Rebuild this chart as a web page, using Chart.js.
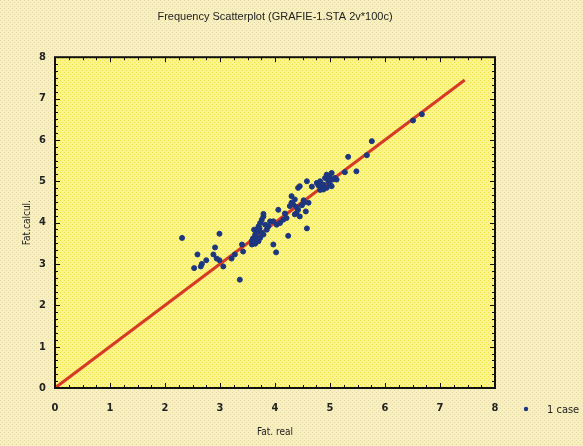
<!DOCTYPE html>
<html>
<head>
<meta charset="utf-8">
<script src="https://cdn.jsdelivr.net/npm/chart.js@4/dist/chart.umd.min.js"></script>
<style>
  html, body { margin: 0; padding: 0; background: #f6eebd; }
  #wrap { width: 583px; height: 446px; }
</style>
</head>
<body>
<div id="wrap"><canvas id="myChart"></canvas></div>
<script>
// measured cases: Fat, real (x) vs Fat.calcul. (y)
const fatReal = [
  2.31, 2.99, 2.91, 2.59, 2.88, 2.75, 2.67, 2.65, 2.53, 2.94, 2.99, 3.06, 3.21, 3.27, 3.36, 3.42, 3.40,
  3.58, 3.61, 3.64, 3.67, 3.70, 3.73, 3.76, 3.79, 3.79, 3.76, 3.73, 3.70, 3.64, 3.79, 3.85, 3.88, 3.62, 3.66, 3.60, 3.68, 3.72, 3.82, 3.58,
  3.97, 4.02, 3.91, 3.97, 4.03, 4.09, 4.06, 4.15, 4.21, 4.18, 4.24, 4.30, 4.36, 4.33, 4.30, 4.27, 4.39, 4.42, 4.45, 4.39, 4.36,
  4.42, 4.49, 4.52, 4.52, 4.61, 4.56, 4.58, 4.58, 4.45, 4.67,
  4.76, 4.82, 4.85, 4.88, 4.91, 4.94, 4.97, 5.00, 5.03, 5.05, 5.09, 5.12, 4.88, 4.82, 4.94, 5.03, 4.79, 4.99,
  5.27, 5.33, 5.48, 5.67, 5.76, 6.51, 6.67
];
const fatCalc = [
  3.63, 3.73, 3.40, 3.23, 3.23, 3.09, 3.00, 2.94, 2.90, 3.13, 3.09, 2.94, 3.13, 3.23, 2.62, 3.30, 3.47,
  3.47, 3.59, 3.71, 3.83, 3.91, 3.99, 4.07, 4.15, 4.21, 3.75, 3.63, 3.55, 3.49, 3.71, 3.83, 3.91, 3.83, 3.65, 3.62, 3.78, 3.86, 3.95, 3.56,
  3.47, 3.28, 4.03, 4.03, 3.95, 3.99, 4.31, 4.07, 4.11, 4.22, 3.68, 4.64, 4.56, 4.44, 4.48, 4.40, 4.38, 4.31, 4.15, 4.23, 4.20,
  4.84, 4.42, 4.54, 4.48, 4.48, 4.27, 3.86, 5.00, 4.88, 4.87,
  4.96, 5.00, 4.88, 4.92, 5.08, 5.16, 5.00, 4.92, 5.20, 5.04, 5.08, 5.04, 4.80, 4.79, 4.84, 4.88, 4.90, 5.10,
  5.22, 5.59, 5.24, 5.63, 5.97, 6.47, 6.62
];
// fitted line ends
const fitX = [0, 7.45];
const fitY = [0, 7.45];
const axisTicks = [0, 1, 2, 3, 4, 5, 6, 7, 8];

const fontFam = "'Liberation Sans Narrow', 'DejaVu Sans Condensed', sans-serif";

function makePattern(base, dot, size) {
  const c = document.createElement('canvas');
  c.width = 4; c.height = 4;
  const g = c.getContext('2d');
  g.fillStyle = base;
  g.fillRect(0, 0, 4, 4);
  g.fillStyle = dot;
  g.fillRect(0, 0, size, size);
  g.fillRect(2, 2, size, size);
  return c;
}

const bgPlugin = {
  id: 'bgPlugin',
  beforeDraw(chart) {
    const ctx = chart.ctx;
    const a = chart.chartArea;
    ctx.save();
    ctx.fillStyle = ctx.createPattern(makePattern('#f7efc0', '#e6dba6', 1), 'repeat');
    ctx.fillRect(0, 0, chart.width, chart.height);
    ctx.fillStyle = ctx.createPattern(makePattern('#f9f48e', '#eee243', 1), 'repeat');
    ctx.fillRect(a.left, a.top, a.right - a.left, a.bottom - a.top);
    ctx.restore();
  },
  afterDraw(chart) {
    const ctx = chart.ctx;
    const a = chart.chartArea;
    const xs = chart.scales.x, ys = chart.scales.y;
    ctx.save();
    ctx.strokeStyle = '#111';
    ctx.lineWidth = 1;
    // inward ticks
    for (let v = 0; v <= 8.001; v += 0.25) {
      const px = Math.round(xs.getPixelForValue(v)) + 0.5;
      const len = Math.abs(v - Math.round(v)) < 0.01 ? 5 : 3;
      ctx.beginPath();
      ctx.moveTo(px, a.bottom); ctx.lineTo(px, a.bottom - len);
      ctx.moveTo(px, a.top); ctx.lineTo(px, a.top + len);
      ctx.stroke();
    }
    for (let i = 0; i <= 48; i++) {
      const v = i / 6;
      const py = Math.round(ys.getPixelForValue(v)) + 0.5;
      const len = i % 6 === 0 ? 5 : 3;
      ctx.beginPath();
      ctx.moveTo(a.left, py); ctx.lineTo(a.left + len, py);
      ctx.moveTo(a.right, py); ctx.lineTo(a.right - len, py);
      ctx.stroke();
    }
    // frame
    ctx.lineWidth = 2;
    ctx.strokeRect(a.left, a.top, a.right - a.left, a.bottom - a.top);
    // legend
    const ds = chart.data.datasets[1];
    ctx.fillStyle = ds.backgroundColor;
    ctx.beginPath();
    ctx.arc(526, 409, 2.2, 0, Math.PI * 2);
    ctx.fill();
    ctx.fillStyle = '#222';
    ctx.font = '11px ' + fontFam;
    ctx.textBaseline = 'middle';
    ctx.fillText(ds.label, 547, 410);
    ctx.restore();
  }
};

const chart = new Chart(document.getElementById('myChart').getContext('2d'), {
  data: {
    datasets: [{
      type: 'line',
      label: 'fit',
      data: fitX.map((x, i) => ({ x: x, y: fitY[i] })),
      borderColor: '#d63a26',
      borderWidth: 3,
      pointRadius: 0,
      fill: false,
      order: 2
    }, {
      type: 'scatter',
      label: '1 case',
      data: fatReal.map((x, i) => ({ x: x, y: fatCalc[i] })),
      backgroundColor: '#1c3680',
      borderColor: '#1c3680',
      pointRadius: 2.5,
      pointHoverRadius: 2.5,
      order: 1
    }]
  },
  options: {
    responsive: true,
    maintainAspectRatio: false,
    animation: false,
    layout: { padding: { left: 0, right: 88, top: 0, bottom: 0 } },
    plugins: {
      legend: { display: false },
      tooltip: { enabled: false },
      title: {
        display: true,
        fullSize: false,
        text: 'Frequency Scatterplot (GRAFIE-1.STA 2v*100c)',
        color: '#222',
        font: { family: "'Liberation Sans', sans-serif", size: 11, weight: 'normal' },
        padding: { top: 10, bottom: 34 }
      }
    },
    scales: {
      x: {
        type: 'linear',
        min: 0, max: 8,
        afterBuildTicks: s => { s.ticks = axisTicks.map(v => ({ value: v })); },
        afterFit: s => { s.height = 58; },
        grid: { display: false, drawTicks: false },
        border: { display: false },
        ticks: { color: '#222', padding: 14, font: { family: fontFam, size: 11, weight: 'bold' }, maxRotation: 0 },
        title: { display: true, text: 'Fat. real', color: '#222', font: { family: fontFam, size: 10 }, padding: { top: 0, bottom: 8 } }
      },
      y: {
        type: 'linear',
        min: 0, max: 8,
        afterBuildTicks: s => { s.ticks = axisTicks.map(v => ({ value: v })); },
        afterFit: s => { s.width = 55; },
        grid: { display: false, drawTicks: false },
        border: { display: false },
        ticks: { color: '#222', padding: 9, font: { family: fontFam, size: 11, weight: 'bold' } },
        title: { display: true, text: 'Fat.calcul.', color: '#222', font: { family: fontFam, size: 10 }, padding: { top: 21, bottom: 0 } }
      }
    }
  },
  plugins: [bgPlugin]
});
</script>
</body>
</html>
